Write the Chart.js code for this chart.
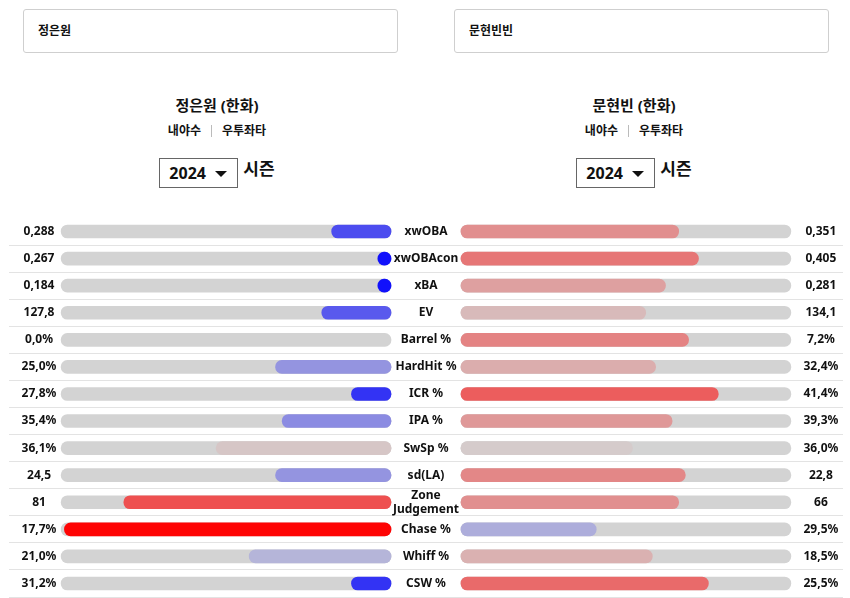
<!DOCTYPE html>
<html lang="ko">
<head>
<meta charset="utf-8">
<script src="https://cdn.jsdelivr.net/npm/chart.js@4.4.1/dist/chart.umd.min.js"></script>
<style>
  body { margin: 0; background: #fff; font-family: 'Noto Sans', 'Noto Sans CJK KR', sans-serif; color: #111; }
  #wrap { position: relative; width: 850px; height: 598px; overflow: hidden; }
  .search { position: absolute; top: 9px; width: 375px; height: 44px; box-sizing: border-box;
    border: 1px solid #cfcfcf; border-radius: 3px; font-size: 12px; font-weight: 700;
    line-height: 42px; padding-left: 14px; }
  .player { position: absolute; top: 95px; width: 300px; text-align: center; }
  .player .name { font-size: 15px; font-weight: 700; line-height: 20px; }
  .player .info { margin-top: 8px; font-size: 12px; font-weight: 700; line-height: 16px; }
  .player .sep { display: inline-block; width: 1px; height: 12px; background: #bbb; margin: 0 10px; vertical-align: -2px; }
  .season { margin-top: 19px; height: 30px; display: flex; justify-content: center; align-items: flex-start; }
  .sel { width: 79px; height: 30px; box-sizing: border-box; border: 1px solid #666; font-size: 16px; font-weight: 700;
    line-height: 28px; padding-left: 9px; text-align: left; position: relative; }
  .sel .arr { position: absolute; left: 55px; top: 12px; width: 0; height: 0;
    border-left: 6px solid transparent; border-right: 6px solid transparent; border-top: 6px solid #111; }
  .season .lbl { font-size: 17px; font-weight: 700; line-height: 22px; margin-left: 5px; margin-top: 0px; }
  #rows { position: absolute; left: 0; top: 217px; }
</style>
</head>
<body>
<div id="wrap">
  <div class="search" style="left:23px">정은원</div>
  <div class="search" style="left:454px">문현빈빈</div>

  <div class="player" style="left:67px">
    <div class="name">정은원 (한화)</div>
    <div class="info">내야수<span class="sep"></span>우투좌타</div>
    <div class="season"><div class="sel">2024<span class="arr"></span></div><div class="lbl">시즌</div></div>
  </div>
  <div class="player" style="left:484px">
    <div class="name">문현빈 (한화)</div>
    <div class="info">내야수<span class="sep"></span>우투좌타</div>
    <div class="season"><div class="sel">2024<span class="arr"></span></div><div class="lbl">시즌</div></div>
  </div>

  <canvas id="rows" width="850" height="381"></canvas>
</div>
<script>
// stat rows, top to bottom
const statLabels = ["xwOBA", "xwOBAcon", "xBA", "EV", "Barrel %", "HardHit %", "ICR %", "IPA %",
  "SwSp %", "sd(LA)", ["Zone", "Judgement"], "Chase %", "Whiff %", "CSW %"];

// 정은원
const leftValues = ["0,288", "0,267", "0,184", "127,8", "0,0%", "25,0%", "27,8%", "35,4%",
  "36,1%", "24,5", "81", "17,7%", "21,0%", "31,2%"];
const leftPct = [18, 4, 4, 21, 0, 35, 12, 33, 53, 35, 81, 99, 43, 12];

// 문현빈
const rightValues = ["0,351", "0,405", "0,281", "134,1", "7,2%", "32,4%", "41,4%", "39,3%",
  "36,0%", "22,8", "66", "29,5%", "18,5%", "25,5%"];
const rightPct = [66, 72, 62, 56, 69, 59, 78, 64, 52, 68, 66, 41, 58, 75];

const GAP = 10.6;        // half width of the label column, in percentile units
const LEFT_TEXT = -117.3;
const RIGHT_TEXT = 119.7;
const TRACK = "#d3d3d3";
const FONT = "'Noto Sans', 'Noto Sans CJK KR', sans-serif";

// blue (low) -> gray (50) -> red (high)
function pctColor(p) {
  const mid = [211, 211, 211];
  const end = p >= 50 ? [255, 0, 0] : [0, 0, 255];
  const t = Math.abs(p - 50) / 50;
  const c = mid.map((m, i) => Math.round(m + (end[i] - m) * t));
  return "rgb(" + c.join(",") + ")";
}

const rowText = {
  id: "rowText",
  afterDatasetsDraw(chart) {
    const { ctx, scales: { x, y } } = chart;
    ctx.save();
    ctx.font = "bold 12px " + FONT;
    ctx.fillStyle = "#111";
    ctx.textAlign = "center";
    ctx.textBaseline = "middle";
    statLabels.forEach((lab, i) => {
      const py = y.getPixelForValue(i);
      ctx.fillText(leftValues[i], x.getPixelForValue(LEFT_TEXT), py);
      ctx.fillText(rightValues[i], x.getPixelForValue(RIGHT_TEXT), py);
      const lines = Array.isArray(lab) ? lab : [lab];
      lines.forEach((s, k) => {
        ctx.fillText(s, x.getPixelForValue(0), py + (k - (lines.length - 1) / 2) * 14);
      });
    });
    ctx.restore();
  }
};

new Chart(document.getElementById("rows"), {
  type: "bar",
  data: {
    labels: statLabels,
    datasets: [
      {
        label: "정은원",
        data: leftPct.map((p) => (p > 0 ? [-GAP - p, -GAP] : null)),
        backgroundColor: leftPct.map(pctColor),
        order: 1,
      },
      {
        label: "track L",
        data: leftPct.map(() => [-GAP - 100, -GAP]),
        backgroundColor: TRACK,
        order: 2,
      },
      {
        label: "문현빈",
        data: rightPct.map((p) => (p > 0 ? [GAP, GAP + p] : null)),
        backgroundColor: rightPct.map(pctColor),
        order: 1,
      },
      {
        label: "track R",
        data: rightPct.map(() => [GAP, GAP + 100]),
        backgroundColor: TRACK,
        order: 2,
      },
    ],
  },
  options: {
    indexAxis: "y",
    responsive: false,
    animation: false,
    layout: { padding: { left: 9, right: 7, top: 1, bottom: 1 } },
    datasets: {
      bar: { grouped: false, barThickness: 13, borderRadius: 7, borderSkipped: false },
    },
    plugins: {
      legend: { display: false },
      tooltip: { enabled: false },
    },
    scales: {
      x: { display: false, min: -126.4, max: 126.4 },
      y: {
        grid: {
          offset: true,
          drawTicks: false,
          color: (c) => (c.index === 0 ? "rgba(0,0,0,0)" : "#e3e3e3"),
        },
        border: { display: false },
        ticks: { display: false, padding: 0 },
      },
    },
  },
  plugins: [rowText],
});
</script>
</body>
</html>
